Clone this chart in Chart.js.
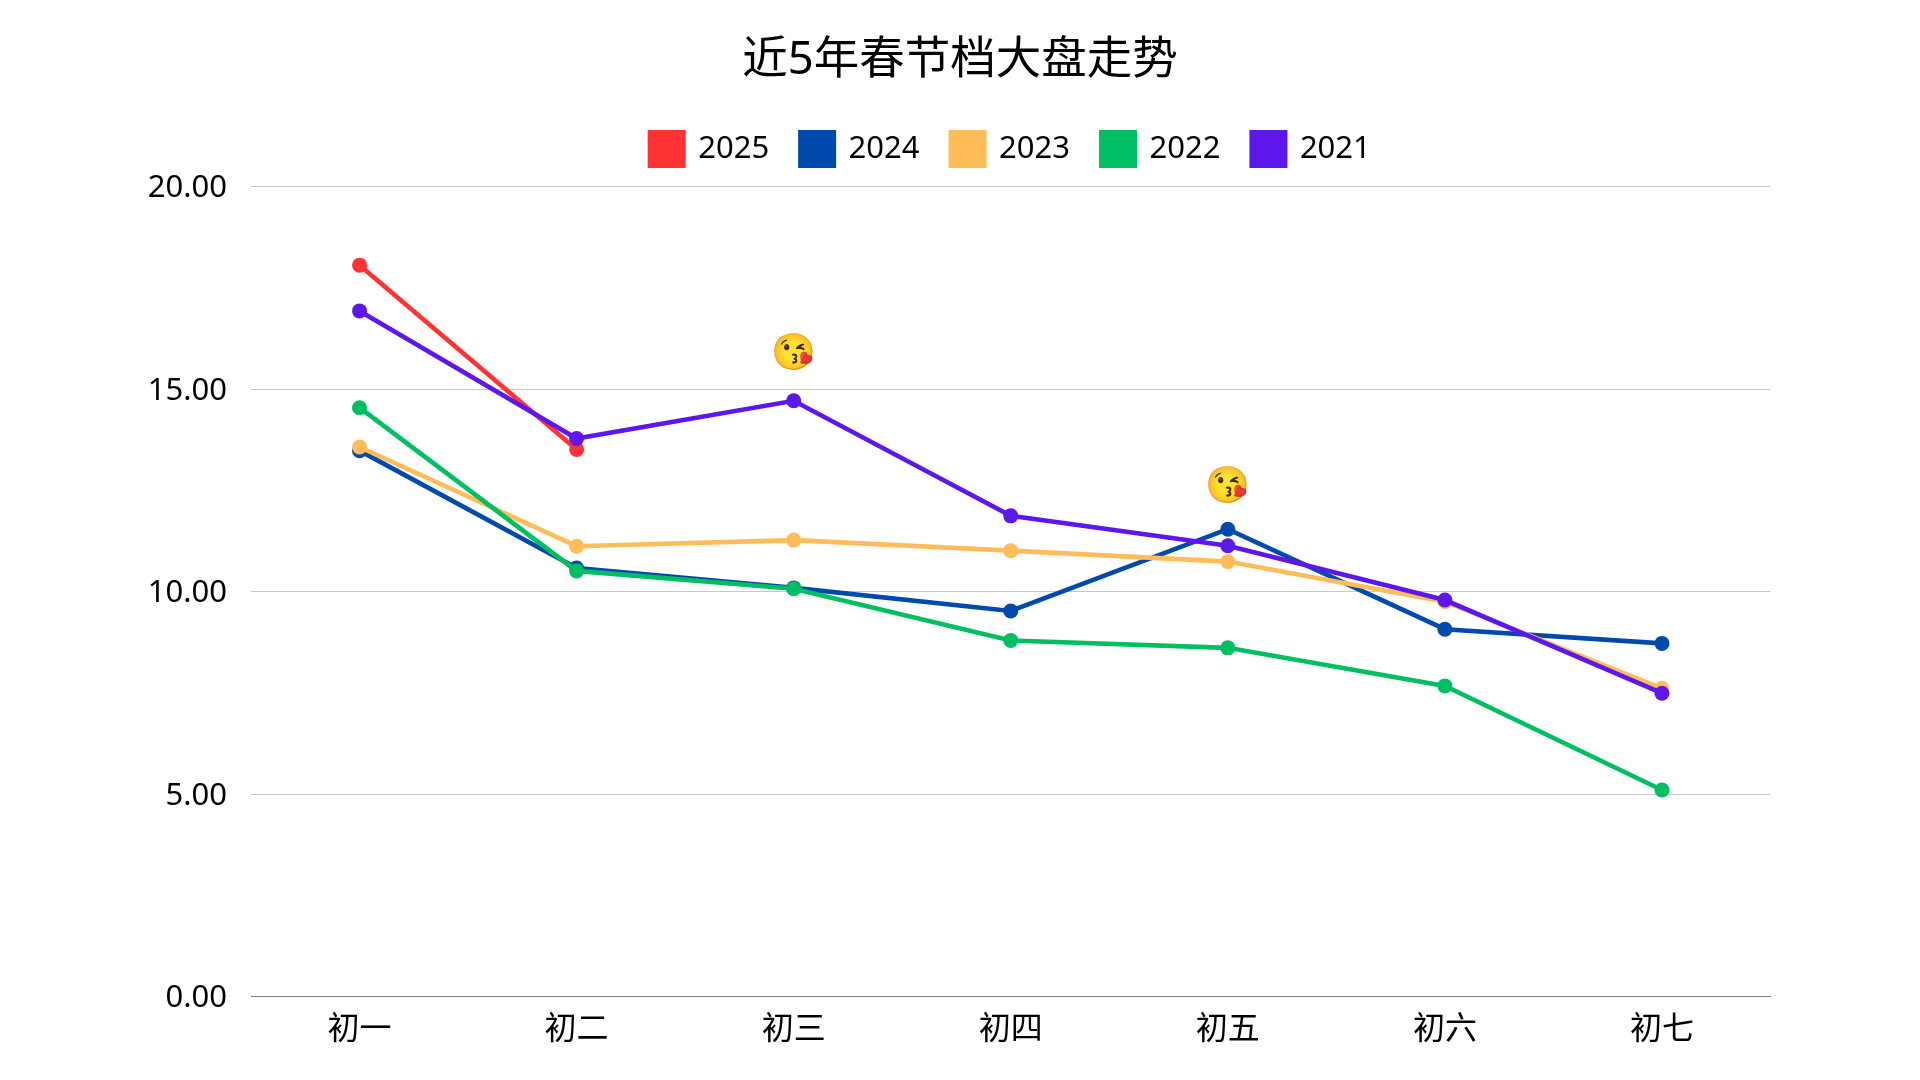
<!DOCTYPE html>
<html><head><meta charset="utf-8">
<style>html,body{margin:0;padding:0;background:#fff}#w{width:1920px;height:1080px}</style>
<script src="https://cdn.jsdelivr.net/npm/chart.js@4"></script></head>
<body><div id="w"><canvas id="c" width="1920" height="1080"></canvas></div>
<script>
const categories = ['初一','初二','初三','初四','初五','初六','初七'];
const series2025 = [18.06,13.51,null,null,null,null,null];
const series2024 = [13.48,10.58,10.09,9.52,11.54,9.07,8.72];
const series2023 = [13.57,11.12,11.27,11.01,10.74,9.75,7.61];
const series2022 = [14.54,10.51,10.07,8.79,8.61,7.67,5.10];
const series2021 = [16.93,13.78,14.71,11.87,11.13,9.79,7.49];
const yTicks = [0,5,10,15,20];
const emojiMarks = [{cat:'初三',value:15.88},{cat:'初五',value:12.6}];
const fontFam = '"Noto Sans","Noto Sans CJK SC",sans-serif';
function ds(label,data,color,order){return {label,data,borderColor:color,backgroundColor:color,borderWidth:4.6,pointRadius:7.5,pointHoverRadius:7.5,pointBorderWidth:0,tension:0,spanGaps:false,order};}
const emojiPlugin={id:'emoji',afterDatasetsDraw(ch){const c=ch.ctx;c.save();c.font='36px "Noto Color Emoji","Apple Color Emoji",sans-serif';c.textAlign='center';c.textBaseline='middle';
 emojiMarks.forEach(m=>c.fillText('😘',ch.scales.x.getPixelForValue(categories.indexOf(m.cat)),ch.scales.y.getPixelForValue(m.value)));c.restore();}};
const shiftPlugin={id:'shift',afterLayout(ch){
 const t=ch.titleBlock,l=ch.legend;
 if(t){t.left+=74.75;t.right+=74.75;t.top-=8;t.bottom-=8;}
 if(l){l.left+=125.5;l.right+=125.5;l.top-=11.5;l.bottom-=11.5;}
}};
new Chart(document.getElementById('c'),{type:'line',data:{labels:categories,datasets:[
 ds('2025',series2025,'#FF3333',5),ds('2024',series2024,'#004AAD',4),ds('2023',series2023,'#FFBD59',3),ds('2022',series2022,'#00BF63',2),ds('2021',series2021,'#5E17EB',1)]},
 options:{responsive:false,animation:false,devicePixelRatio:1,
 layout:{padding:{top:42,left:0,right:149.5,bottom:0}},
 plugins:{title:{display:true,text:'近5年春节档大盘走势',color:'#000',font:{family:fontFam,size:45.5,weight:'normal'},padding:{top:0,bottom:16}},
 legend:{display:true,position:'top',labels:{color:'#000',font:{family:fontFam,size:31},boxWidth:32,boxHeight:32,padding:32,sort:(a,b)=>a.datasetIndex-b.datasetIndex,
  generateLabels(ch){return Chart.defaults.plugins.legend.labels.generateLabels(ch).map(i=>({...i,lineWidth:6}));}}},tooltip:{enabled:false}},
 scales:{x:{offset:true,grid:{display:false,drawTicks:false},border:{color:'#808080',width:1},ticks:{color:'#000',font:{family:fontFam,size:32},padding:14,maxRotation:0},afterFit(s){s.height=83.5;}},
 y:{min:0,max:20,afterBuildTicks(s){s.ticks=yTicks.map(v=>({value:v}));},grid:{color:'#c8c8c8',lineWidth:1,drawTicks:false},border:{display:false},ticks:{color:'#000',font:{family:fontFam,size:31},padding:24,labelOffset:2,callback:v=>v.toFixed(2)},afterFit(s){s.width=251;}}}},
 plugins:[emojiPlugin,shiftPlugin]});
</script></body></html>
